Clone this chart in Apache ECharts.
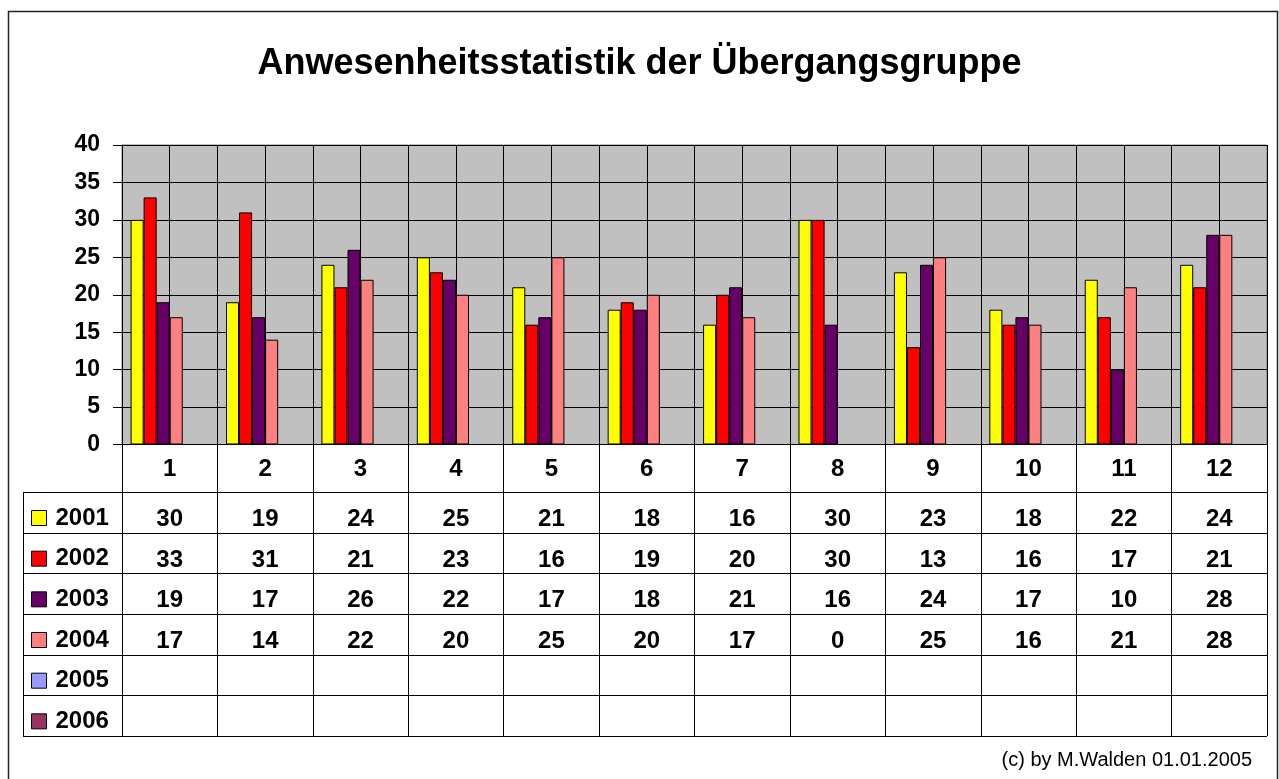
<!DOCTYPE html>
<html>
<head>
<meta charset="utf-8">
<script src="https://cdn.jsdelivr.net/npm/echarts@6/dist/echarts.min.js"></script>
<style>
html,body{margin:0;padding:0;background:#fff;}
#chart{width:1279px;height:779px;}
</style>
</head>
<body>
<div id="chart"></div>
<script>
// ---- data ----
const categories = ['1','2','3','4','5','6','7','8','9','10','11','12'];
const years = ['2001','2002','2003','2004','2005','2006'];
const v2001 = [30,19,24,25,21,18,16,30,23,18,22,24];
const v2002 = [33,31,21,23,16,19,20,30,13,16,17,21];
const v2003 = [19,17,26,22,17,18,21,16,24,17,10,28];
const v2004 = [17,14,22,20,25,20,17,0,25,16,21,28];
const v2005 = [];
const v2006 = [];
const yMin = 0, yMax = 40, yStep = 5;
const titleText = 'Anwesenheitsstatistik der Übergangsgruppe';
const footerText = '(c) by M.Walden 01.01.2005';

const seriesValues = [v2001, v2002, v2003, v2004, v2005, v2006];
const colors = ['#FFFF00','#FF0000','#660066','#FF8080','#9999FF','#993366'];

// ---- layout ----
const FONT = "'Liberation Sans', Arial, sans-serif";
const gridLeft = 122, gridTop = 145, gridRight = 1267, gridBottom = 444.5;
const W = 1279, H = 779;
const tableLeft = 23, rowTop = 492, rowH = 40.67, tableBottom = rowTop + rowH * 6;

const chart = echarts.init(document.getElementById('chart'), null, {renderer:'canvas'});

const xAxes = [
  {
    type:'category', gridIndex:0, data: categories, position:'bottom',
    boundaryGap:true,
    axisLine:{show:true, lineStyle:{color:'#000', width:1}},
    axisTick:{show:true, interval:0, length: tableBottom - gridBottom, lineStyle:{color:'#000', width:1}},
    axisLabel:{interval:0, margin:13, fontSize:24, fontWeight:'bold', color:'#000', fontFamily:FONT, lineHeight:24},
    splitLine:{show:false}
  },
  {
    type:'value', gridIndex:0, min:0, max:categories.length, interval:0.5, position:'bottom',
    axisLine:{show:false}, axisTick:{show:false}, axisLabel:{show:false},
    splitLine:{show:true, lineStyle:{color:'#000', width:1}}
  }
];
seriesValues.forEach((vals, k) => {
  xAxes.push({
    type:'category', gridIndex:0, position:'bottom',
    data: categories.map((c,i) => vals[i] === undefined || vals[i] === null ? '' : String(vals[i])),
    offset: rowTop + k*rowH - gridBottom,
    axisLine:{show:false}, axisTick:{show:false}, splitLine:{show:false},
    axisLabel:{interval:0, margin: rowH/2 + 7 - 12, fontSize:24, fontWeight:'bold', color:'#000', fontFamily:FONT, lineHeight:24}
  });
});

const series = seriesValues.map((vals, k) => ({
  name: years[k], type:'bar', xAxisIndex:0, yAxisIndex:0,
  data: categories.map((c,i) => vals[i] === undefined ? null : vals[i]),
  barGap:'0%', barCategoryGap:'18%',
  itemStyle:{color: colors[k], borderColor:'#000', borderWidth:1},
  emphasis:{disabled:true},
  animation:false
}));

const graphics = [];
// outer border
graphics.push({type:'rect', shape:{x:8.5, y:11.5, width:1269, height:820}, style:{fill:'none', stroke:'#222', lineWidth:1.5}, silent:true, z:100});
// horizontal table lines
for (let k = 0; k <= 6; k++) {
  const y = Math.round(rowTop + k*rowH) + 0.5;
  graphics.push({type:'line', shape:{x1:tableLeft, y1:y, x2:gridRight, y2:y}, style:{stroke:'#000', lineWidth:1}, silent:true, z:100});
}
// left table edge
graphics.push({type:'line', shape:{x1:tableLeft+0.5, y1:rowTop, x2:tableLeft+0.5, y2:tableBottom}, style:{stroke:'#000', lineWidth:1}, silent:true, z:100});
// footer
graphics.push({type:'text', right: W - 1252, top: 750, style:{text: footerText, font: '20px ' + FONT, fill:'#000'}, silent:true});

chart.setOption({
  animation:false,
  backgroundColor:'#fff',
  title:{
    text: titleText, left:'center', top:41,
    textStyle:{fontSize:36, fontWeight:'bold', color:'#000', fontFamily:FONT}
  },
  legend:{
    data: years, orient:'vertical', left:31, top:506, padding:0,
    itemWidth:15, itemHeight:15, itemGap: rowH - 24,
    icon:'rect', selectedMode:false,
    itemStyle:{borderColor:'#000', borderWidth:1},
    textStyle:{fontSize:24, fontWeight:'bold', color:'#000', fontFamily:FONT, lineHeight:24, padding:[0,0,0,4]}
  },
  grid:{
    left:gridLeft, top:gridTop, width: gridRight - gridLeft, height: gridBottom - gridTop,
    show:true, backgroundColor:'#C0C0C0', borderColor:'#808080', borderWidth:1,
    containLabel:false
  },
  xAxis: xAxes,
  yAxis:{
    type:'value', min:yMin, max:yMax, interval:yStep,
    axisLine:{show:true, lineStyle:{color:'#000', width:1}},
    axisTick:{show:true, length:9, lineStyle:{color:'#000', width:1}},
    axisLabel:{margin:22, fontSize:23, fontWeight:'bold', color:'#000', fontFamily:FONT},
    splitLine:{show:true, lineStyle:{color:'#000', width:1}}
  },
  series: series,
  graphic: graphics
});
</script>
</body>
</html>
